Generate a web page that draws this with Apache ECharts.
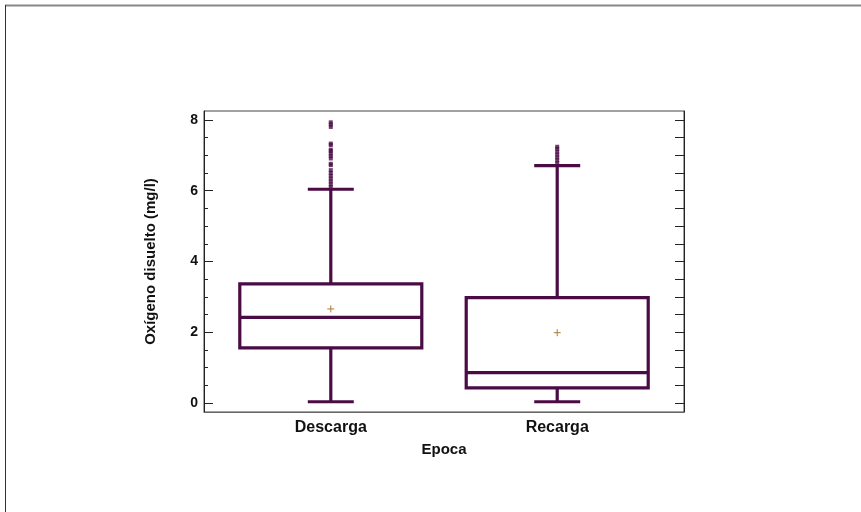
<!DOCTYPE html>
<html>
<head>
<meta charset="utf-8">
<script src="https://cdn.jsdelivr.net/npm/echarts@6/dist/echarts.min.js"></script>
<style>html,body{margin:0;padding:0;background:#fff;}#c{width:861px;height:512px;}</style>
</head>
<body>
<div id="c"></div>
<script>
// ---- data ----
const categories = ['Descarga', 'Recarga'];
const whiskerLow = [0.04, 0.04];
const q1 = [1.56, 0.43];
const median = [2.42, 0.86];
const q3 = [3.37, 2.98];
const whiskerHigh = [6.04, 6.71];
const means = [2.66, 1.99];
const outliersDescarga = [6.1, 6.18, 6.26, 6.34, 6.42, 6.5, 6.58, 6.72, 6.76, 6.91, 6.98, 7.05, 7.12, 7.16, 7.29, 7.33, 7.8, 7.87, 7.93];
const outliersRecarga = [6.78, 6.86, 6.94, 7.02, 7.1, 7.18, 7.24];
const yTickLabels = [0, 2, 4, 6, 8];
const yMinorTicks = [0.5, 1, 1.5, 2.5, 3, 3.5, 4.5, 5, 5.5, 6.5, 7, 7.5];
const yRightTicks = [0, 0.5, 1, 1.5, 2, 2.5, 3, 3.5, 4, 4.5, 5, 5.5, 6, 6.5, 7, 7.5, 8];

const LINE = '#4b0b45';
const FONT = '"Liberation Sans", Arial, sans-serif';

const boxData = categories.map((c, i) => [i + 1, whiskerLow[i], q1[i], median[i], q3[i], whiskerHigh[i], means[i]]);
const outlierData = [];
outliersDescarga.forEach(v => outlierData.push([1, v]));
outliersRecarga.forEach(v => outlierData.push([2, v]));

function renderItem(params, api) {
  const x = api.value(0);
  const lo = api.coord([x, api.value(1)]);
  const p1 = api.coord([x, api.value(2)]);
  const md = api.coord([x, api.value(3)]);
  const p3 = api.coord([x, api.value(4)]);
  const hi = api.coord([x, api.value(5)]);
  const mn = api.coord([x, api.value(6)]);
  const cx = lo[0];
  const hb = 91, hc = 23, pm = 3.5;
  const st = { stroke: LINE, lineWidth: 3.2, fill: null };
  return {
    type: 'group',
    children: [
      { type: 'rect', shape: { x: cx - hb, y: p3[1], width: 2 * hb, height: p1[1] - p3[1] }, style: st },
      { type: 'line', shape: { x1: cx - hb, y1: md[1], x2: cx + hb, y2: md[1] }, style: st },
      { type: 'line', shape: { x1: cx, y1: p3[1], x2: cx, y2: hi[1] }, style: st },
      { type: 'line', shape: { x1: cx, y1: p1[1], x2: cx, y2: lo[1] }, style: st },
      { type: 'line', shape: { x1: cx - hc, y1: hi[1], x2: cx + hc, y2: hi[1] }, style: st },
      { type: 'line', shape: { x1: cx - hc, y1: lo[1], x2: cx + hc, y2: lo[1] }, style: st },
      { type: 'line', shape: { x1: cx - pm, y1: mn[1], x2: cx + pm, y2: mn[1] }, style: { stroke: '#b07a3c', lineWidth: 1 } },
      { type: 'line', shape: { x1: cx, y1: mn[1] - pm, x2: cx, y2: mn[1] + pm }, style: { stroke: '#b07a3c', lineWidth: 1 } }
    ]
  };
}

const chart = echarts.init(document.getElementById('c'));
chart.setOption({
  animation: false,
  backgroundColor: '#fff',
  graphic: [
    { type: 'line', shape: { x1: 5, y1: 5.5, x2: 861, y2: 5.5 }, style: { stroke: '#888', lineWidth: 2 } },
    { type: 'line', shape: { x1: 5.5, y1: 5, x2: 5.5, y2: 512 }, style: { stroke: '#333', lineWidth: 1 } }
  ],
  grid: { left: 204, top: 111, width: 480, height: 301, show: true, borderColor: '#444', borderWidth: 1, containLabel: false },
  xAxis: {
    type: 'value', min: 0.44, max: 2.56,
    splitLine: { show: false },
    axisLine: { show: true, onZero: false, lineStyle: { color: '#666' } },
    axisTick: { show: false },
    axisLabel: {
      customValues: [1, 2],
      formatter: v => categories[Math.round(v) - 1] || '',
      color: '#111', fontFamily: FONT, fontWeight: 'bold', fontSize: 16, margin: 8
    },
    name: 'Epoca', nameLocation: 'middle', nameGap: 30,
    nameTextStyle: { color: '#111', fontFamily: FONT, fontWeight: 'bold', fontSize: 15 }
  },
  yAxis: [
    {
      type: 'value', min: -0.25, max: 8.25, position: 'left',
      splitLine: { show: false },
      axisLine: { show: true, lineStyle: { color: '#222' } },
      axisTick: { show: true, inside: true, length: 9, customValues: yTickLabels, lineStyle: { color: '#222' } },
      axisLabel: { customValues: yTickLabels, color: '#111', fontFamily: FONT, fontWeight: 'bold', fontSize: 14, margin: 6 },
      name: 'Oxígeno disuelto (mg/l)', nameLocation: 'middle', nameGap: 46,
      nameTextStyle: { color: '#111', fontFamily: FONT, fontWeight: 'bold', fontSize: 15 }
    },
    {
      type: 'value', min: -0.25, max: 8.25, position: 'left',
      splitLine: { show: false },
      axisLine: { show: false },
      axisTick: { show: true, inside: true, length: 4, customValues: yMinorTicks, lineStyle: { color: '#222' } },
      axisLabel: { show: false }
    },
    {
      type: 'value', min: -0.25, max: 8.25, position: 'right',
      splitLine: { show: false },
      axisLine: { show: true, lineStyle: { color: '#222' } },
      axisTick: { show: true, inside: true, length: 9, customValues: yRightTicks, lineStyle: { color: '#222' } },
      axisLabel: { show: false }
    }
  ],
  series: [
    {
      type: 'custom', renderItem: renderItem, data: boxData,
      encode: { x: 0, y: [1, 2, 3, 4, 5, 6] }, z: 3
    },
    {
      type: 'scatter', data: outlierData, symbol: 'rect', symbolSize: [4, 4],
      itemStyle: { color: LINE }, z: 4
    }
  ]
});
</script>
</body>
</html>
